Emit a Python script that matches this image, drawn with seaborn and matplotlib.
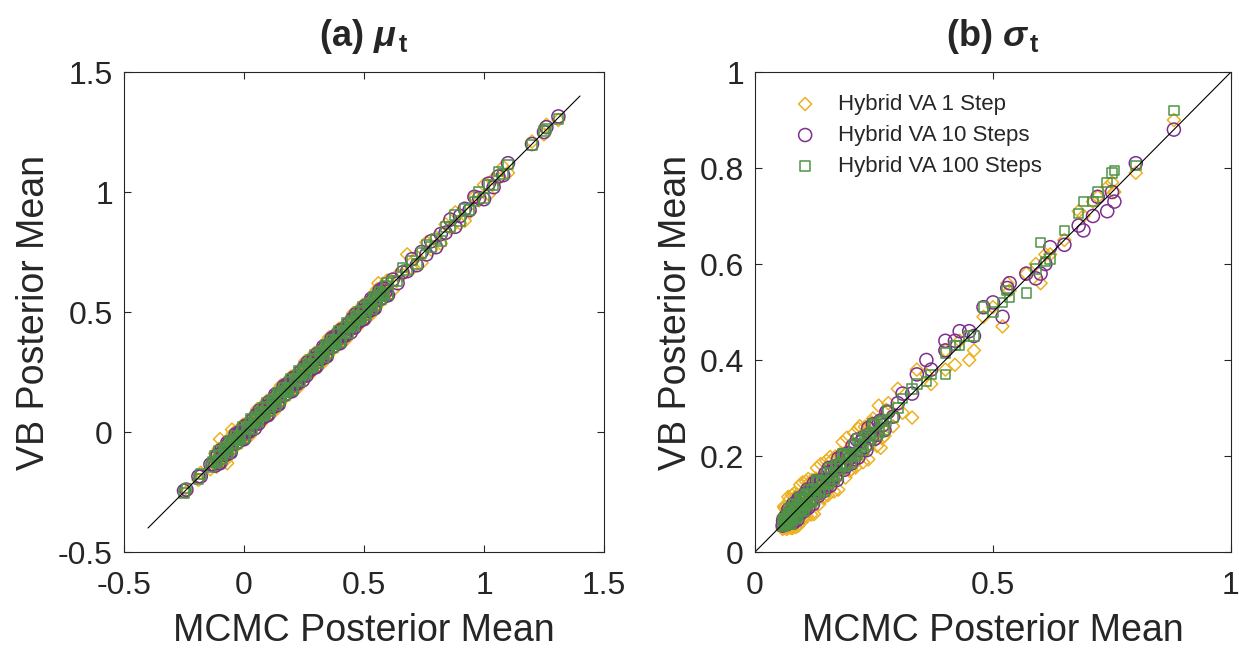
import matplotlib
matplotlib.use("Agg")
import matplotlib.pyplot as plt
import seaborn as sns

# ---- data ----
# panel (a): mu_t, MCMC posterior mean vs VB posterior mean (one value per parameter)
mcmc_mu = [-0.25, -0.24, -0.19, -0.18, -0.14, -0.13,
           -0.12, -0.11, -0.10, -0.09, -0.08, -0.07, -0.06, -0.05, -0.04, -0.03, -0.02, -0.01,
           0.00, 0.01, 0.02, 0.03, 0.04, 0.05, 0.06, 0.07, 0.08, 0.09,
           0.10, 0.11, 0.12, 0.13, 0.14, 0.15, 0.16, 0.17, 0.18, 0.19,
           0.20, 0.21, 0.22, 0.23, 0.24, 0.25, 0.26, 0.27, 0.28, 0.29,
           0.30, 0.31, 0.32, 0.33, 0.34, 0.35, 0.36, 0.37, 0.38, 0.39,
           0.40, 0.41, 0.42, 0.43, 0.44, 0.45, 0.46, 0.47, 0.48, 0.49,
           0.50, 0.51, 0.52, 0.53, 0.54, 0.55, 0.56, 0.57, 0.58, 0.59,
           0.60, 0.62, 0.64, 0.66, 0.68, 0.70, 0.72, 0.74, 0.76, 0.78,
           0.80, 0.82, 0.84, 0.86, 0.88, 0.90, 0.92, 0.94, 0.96, 0.98,
           1.00, 1.02, 1.04, 1.06, 1.08, 1.10,
           1.20, 1.25, 1.26, 1.31,
           -0.115, -0.105, -0.095, -0.085, -0.075, -0.065, -0.055, -0.045, -0.035, -0.025,
           -0.015, -0.005, 0.005, 0.015, 0.025, 0.035, 0.045, 0.055, 0.065, 0.075,
           0.085, 0.095, 0.105, 0.115, 0.125, 0.135, 0.145, 0.155, 0.165, 0.175,
           0.185, 0.195, 0.205, 0.215, 0.225, 0.235, 0.245, 0.255, 0.265, 0.275,
           0.285, 0.295, 0.305, 0.315, 0.325, 0.335, 0.345, 0.355, 0.365, 0.375,
           0.385, 0.395, 0.405, 0.415, 0.425, 0.435, 0.445, 0.455, 0.465, 0.475,
           0.485, 0.495, 0.505, 0.515, 0.525, 0.535, 0.545, 0.555, 0.565, 0.575,
           0.585, 0.595]
vb_mu_1 = [-0.24, -0.25, -0.20, -0.17, -0.155, -0.12,
           -0.09, -0.13, -0.03, -0.125, -0.055, -0.13, -0.025, 0.01, -0.035, -0.055, 0.00, -0.025,
           0.03, -0.02, 0.035, 0.025, 0.065, 0.03, 0.07, 0.035, 0.11, 0.07,
           0.11, 0.075, 0.145, 0.12, 0.175, 0.12, 0.165, 0.145, 0.20, 0.175,
           0.23, 0.18, 0.235, 0.225, 0.265, 0.23, 0.27, 0.235, 0.31, 0.27,
           0.31, 0.275, 0.345, 0.32, 0.375, 0.32, 0.365, 0.345, 0.40, 0.375,
           0.43, 0.38, 0.435, 0.425, 0.465, 0.43, 0.47, 0.435, 0.51, 0.47,
           0.51, 0.475, 0.545, 0.52, 0.575, 0.52, 0.62, 0.545, 0.60, 0.575,
           0.63, 0.59, 0.655, 0.655, 0.74, 0.68, 0.73, 0.705, 0.79, 0.76,
           0.81, 0.785, 0.865, 0.85, 0.915, 0.87, 0.88, 0.915, 0.98, 0.965,
           1.03, 0.99, 1.055, 1.055, 1.105, 1.08,
           1.21, 1.24, 1.28, 1.30,
           -0.145, -0.07, -0.115, -0.06, -0.115, -0.05, -0.065, -0.005, -0.06, 0.005,
           -0.045, 0.03, -0.015, 0.04, -0.015, 0.05, 0.035, 0.095, 0.04, 0.105,
           0.055, 0.13, 0.085, 0.14, 0.085, 0.15, 0.135, 0.195, 0.14, 0.205,
           0.155, 0.23, 0.185, 0.24, 0.185, 0.25, 0.235, 0.295, 0.24, 0.305,
           0.255, 0.33, 0.285, 0.34, 0.285, 0.35, 0.335, 0.395, 0.34, 0.405,
           0.355, 0.43, 0.385, 0.44, 0.385, 0.45, 0.435, 0.495, 0.44, 0.505,
           0.455, 0.53, 0.485, 0.54, 0.485, 0.55, 0.535, 0.595, 0.54, 0.605,
           0.555, 0.63]
vb_mu_10 = [-0.245, -0.24, -0.185, -0.185, -0.135, -0.135,
            -0.14, -0.095, -0.13, -0.085, -0.09, -0.045, -0.085, -0.05, -0.03, -0.045, 0.00, -0.015,
            -0.03, 0.025, 0.00, 0.035, 0.03, 0.07, 0.035, 0.08, 0.06, 0.105,
            0.07, 0.115, 0.11, 0.155, 0.115, 0.15, 0.17, 0.155, 0.20, 0.185,
            0.17, 0.225, 0.20, 0.235, 0.23, 0.27, 0.235, 0.28, 0.26, 0.305,
            0.27, 0.315, 0.31, 0.355, 0.315, 0.35, 0.37, 0.355, 0.40, 0.385,
            0.37, 0.425, 0.40, 0.435, 0.43, 0.47, 0.435, 0.48, 0.46, 0.505,
            0.47, 0.515, 0.51, 0.555, 0.515, 0.55, 0.57, 0.555, 0.60, 0.585,
            0.57, 0.635, 0.62, 0.665, 0.67, 0.72, 0.695, 0.75, 0.74, 0.795,
            0.77, 0.825, 0.83, 0.885, 0.855, 0.90, 0.93, 0.925, 0.98, 0.975,
            0.97, 1.035, 1.02, 1.065, 1.07, 1.12,
            1.20, 1.25, 1.27, 1.315,
            -0.105, -0.13, -0.075, -0.095, -0.095, -0.05, -0.085, -0.04, -0.01, -0.04,
            -0.005, -0.03, 0.025, 0.005, 0.005, 0.05, 0.015, 0.06, 0.09, 0.06,
            0.095, 0.07, 0.125, 0.105, 0.105, 0.15, 0.115, 0.16, 0.19, 0.16,
            0.195, 0.17, 0.225, 0.205, 0.205, 0.25, 0.215, 0.26, 0.29, 0.26,
            0.295, 0.27, 0.325, 0.305, 0.305, 0.35, 0.315, 0.36, 0.39, 0.36,
            0.395, 0.37, 0.425, 0.405, 0.405, 0.45, 0.415, 0.46, 0.49, 0.46,
            0.495, 0.47, 0.525, 0.505, 0.505, 0.55, 0.515, 0.56, 0.59, 0.56,
            0.595, 0.57]
vb_mu_100 = [-0.255, -0.235, -0.195, -0.175, -0.145, -0.125,
             -0.10, -0.12, -0.095, -0.115, -0.065, -0.075, -0.035, -0.07, -0.03, -0.045, -0.02, 0.01,
             -0.025, 0.02, 0.01, 0.055, 0.035, 0.065, 0.04, 0.075, 0.10, 0.08,
             0.105, 0.085, 0.135, 0.125, 0.165, 0.13, 0.17, 0.155, 0.18, 0.21,
             0.175, 0.22, 0.21, 0.255, 0.235, 0.265, 0.24, 0.275, 0.30, 0.28,
             0.305, 0.285, 0.335, 0.325, 0.365, 0.33, 0.37, 0.355, 0.38, 0.41,
             0.375, 0.42, 0.41, 0.455, 0.435, 0.465, 0.44, 0.475, 0.50, 0.48,
             0.505, 0.485, 0.535, 0.525, 0.565, 0.53, 0.57, 0.555, 0.58, 0.61,
             0.575, 0.63, 0.63, 0.685, 0.675, 0.715, 0.70, 0.745, 0.78, 0.77,
             0.805, 0.795, 0.855, 0.855, 0.905, 0.88, 0.93, 0.925, 0.96, 1.00,
             0.975, 1.03, 1.03, 1.085, 1.075, 1.115,
             1.195, 1.255, 1.265, 1.305,
             -0.13, -0.08, -0.115, -0.08, -0.06, -0.09, -0.045, -0.05, -0.015, -0.035,
             -0.03, 0.02, -0.015, 0.02, 0.04, 0.01, 0.055, 0.05, 0.085, 0.065,
             0.07, 0.12, 0.085, 0.12, 0.14, 0.11, 0.155, 0.15, 0.185, 0.165,
             0.17, 0.22, 0.185, 0.22, 0.24, 0.21, 0.255, 0.25, 0.285, 0.265,
             0.27, 0.32, 0.285, 0.32, 0.34, 0.31, 0.355, 0.35, 0.385, 0.365,
             0.37, 0.42, 0.385, 0.42, 0.44, 0.41, 0.455, 0.45, 0.485, 0.465,
             0.47, 0.52, 0.485, 0.52, 0.54, 0.51, 0.555, 0.55, 0.585, 0.565,
             0.57, 0.62]

# panel (b): sigma_t
mcmc_sigma = [0.058, 0.060, 0.062, 0.064, 0.066, 0.068, 0.070, 0.072, 0.074, 0.076,
              0.078, 0.080, 0.083, 0.086, 0.089, 0.092, 0.095, 0.098, 0.101, 0.104,
              0.107, 0.110, 0.114, 0.118, 0.122, 0.126, 0.130, 0.135, 0.140, 0.145,
              0.150, 0.155, 0.160, 0.166, 0.172, 0.178, 0.184, 0.190, 0.196, 0.202,
              0.208, 0.214, 0.220, 0.227, 0.234, 0.241, 0.248, 0.256, 0.264, 0.272,
              0.280, 0.290,
              0.30, 0.31, 0.33, 0.34, 0.36, 0.37, 0.40, 0.40, 0.42, 0.43,
              0.45, 0.46, 0.48, 0.50, 0.52, 0.53, 0.535, 0.57, 0.59, 0.60,
              0.61, 0.62, 0.65, 0.68, 0.69, 0.71, 0.72, 0.74, 0.75, 0.755,
              0.80, 0.88,
              0.059, 0.061, 0.063, 0.065, 0.067, 0.069, 0.071, 0.073, 0.075, 0.077,
              0.079, 0.082, 0.085, 0.088, 0.091, 0.094, 0.097, 0.100, 0.103, 0.106,
              0.109, 0.112, 0.116, 0.120, 0.124, 0.128, 0.133, 0.138, 0.143, 0.148,
              0.153, 0.158, 0.163, 0.169, 0.175, 0.181, 0.187, 0.193, 0.199, 0.205,
              0.211, 0.217, 0.224, 0.231, 0.238, 0.245, 0.252, 0.260, 0.268, 0.276]
vb_sigma_1 = [0.048, 0.075, 0.092, 0.050, 0.086, 0.053, 0.115, 0.052, 0.084, 0.050,
              0.118, 0.055, 0.113, 0.052, 0.109, 0.077, 0.140, 0.063, 0.111, 0.074,
              0.147, 0.085, 0.144, 0.078, 0.142, 0.111, 0.175, 0.100, 0.150, 0.115,
              0.190, 0.130, 0.190, 0.126, 0.192, 0.163, 0.229, 0.155, 0.206, 0.172,
              0.248, 0.189, 0.262, 0.187, 0.254, 0.226, 0.278, 0.221, 0.217, 0.242,
              0.310, 0.262,
              0.34, 0.29, 0.28, 0.38, 0.37, 0.35, 0.42, 0.38, 0.39, 0.44,
              0.40, 0.42, 0.49, 0.51, 0.47, 0.56, 0.545, 0.58, 0.60, 0.56,
              0.62, 0.62, 0.65, 0.71, 0.70, 0.73, 0.74, 0.76, 0.77, 0.75,
              0.79, 0.90,
              0.050, 0.095, 0.052, 0.090, 0.048, 0.092, 0.062, 0.110, 0.055, 0.100,
              0.050, 0.122, 0.065, 0.118, 0.055, 0.119, 0.087, 0.145, 0.073, 0.126,
              0.074, 0.152, 0.096, 0.150, 0.079, 0.153, 0.123, 0.183, 0.113, 0.168,
              0.118, 0.198, 0.143, 0.199, 0.130, 0.206, 0.177, 0.238, 0.169, 0.225,
              0.176, 0.257, 0.204, 0.261, 0.193, 0.270, 0.242, 0.305, 0.238, 0.296]
vb_sigma_10 = [0.055, 0.068, 0.057, 0.074, 0.058, 0.073, 0.088, 0.060, 0.084, 0.062,
               0.063, 0.100, 0.075, 0.098, 0.067, 0.097, 0.113, 0.086, 0.111, 0.086,
               0.092, 0.130, 0.106, 0.130, 0.100, 0.131, 0.148, 0.123, 0.150, 0.127,
               0.135, 0.175, 0.152, 0.178, 0.150, 0.183, 0.202, 0.178, 0.206, 0.184,
               0.193, 0.234, 0.212, 0.239, 0.212, 0.246, 0.266, 0.244, 0.274, 0.254,
               0.292, 0.282,
               0.31, 0.33, 0.33, 0.37, 0.40, 0.38, 0.42, 0.44, 0.44, 0.46,
               0.46, 0.45, 0.51, 0.52, 0.49, 0.55, 0.56, 0.58, 0.57, 0.58,
               0.60, 0.635, 0.64, 0.68, 0.67, 0.70, 0.74, 0.71, 0.75, 0.73,
               0.81, 0.88,
               0.065, 0.057, 0.066, 0.059, 0.077, 0.066, 0.063, 0.078, 0.073, 0.085,
               0.091, 0.062, 0.091, 0.076, 0.111, 0.088, 0.081, 0.110, 0.099, 0.122,
               0.121, 0.092, 0.122, 0.108, 0.144, 0.122, 0.117, 0.148, 0.139, 0.164,
               0.165, 0.138, 0.169, 0.157, 0.195, 0.175, 0.171, 0.203, 0.195, 0.221,
               0.223, 0.197, 0.230, 0.219, 0.258, 0.239, 0.236, 0.270, 0.264, 0.292]
vb_sigma_100 = [0.063, 0.056, 0.070, 0.058, 0.076, 0.063, 0.090, 0.060, 0.082, 0.058,
                0.093, 0.070, 0.088, 0.071, 0.099, 0.087, 0.115, 0.086, 0.109, 0.086,
                0.122, 0.100, 0.119, 0.103, 0.132, 0.121, 0.150, 0.123, 0.148, 0.127,
                0.165, 0.145, 0.165, 0.151, 0.182, 0.173, 0.204, 0.178, 0.204, 0.184,
                0.223, 0.204, 0.225, 0.212, 0.244, 0.236, 0.268, 0.244, 0.272, 0.254,
                0.295, 0.280,
                0.30, 0.32, 0.34, 0.35, 0.355, 0.37, 0.37, 0.415, 0.43, 0.43,
                0.45, 0.45, 0.51, 0.50, 0.52, 0.545, 0.53, 0.54, 0.59, 0.645,
                0.605, 0.61, 0.67, 0.705, 0.73, 0.73, 0.75, 0.77, 0.79, 0.795,
                0.805, 0.92,
                0.053, 0.070, 0.060, 0.070, 0.059, 0.071, 0.078, 0.068, 0.078, 0.075,
                0.067, 0.100, 0.079, 0.098, 0.075, 0.098, 0.111, 0.090, 0.109, 0.102,
                0.097, 0.130, 0.110, 0.130, 0.108, 0.132, 0.147, 0.128, 0.149, 0.144,
                0.141, 0.176, 0.157, 0.179, 0.159, 0.185, 0.201, 0.183, 0.205, 0.201,
                0.199, 0.235, 0.218, 0.241, 0.222, 0.249, 0.266, 0.250, 0.274, 0.272]

series_names = ["Hybrid VA 1 Step", "Hybrid VA 10 Steps", "Hybrid VA 100 Steps"]
series_colors = ["#EDB120", "#7E2F8E", "#4E9445"]
series_markers = ["D", "o", "s"]
series_sizes = [44, 88, 48]

mu_ticks = [-0.5, 0, 0.5, 1, 1.5]
mu_ticklabels = ["-0.5", "0", "0.5", "1", "1.5"]
sigma_xticks = [0, 0.5, 1]
sigma_xticklabels = ["0", "0.5", "1"]
sigma_yticks = [0, 0.2, 0.4, 0.6, 0.8, 1]
sigma_yticklabels = ["0", "0.2", "0.4", "0.6", "0.8", "1"]

# ---- style ----
sns.set_style("ticks")
plt.rcParams["font.family"] = ["Liberation Sans", "DejaVu Sans"]
plt.rcParams["mathtext.fontset"] = "custom"
plt.rcParams["mathtext.rm"] = "Liberation Sans"
plt.rcParams["mathtext.it"] = "Liberation Sans:italic:bold"
plt.rcParams["mathtext.bf"] = "Liberation Sans:bold"
plt.rcParams["axes.unicode_minus"] = False

fig = plt.figure(figsize=(12.39, 6.49), dpi=100)
ax1 = fig.add_axes([124 / 1239, 97 / 649, 480 / 1239, 480 / 649])
ax2 = fig.add_axes([755 / 1239, 97 / 649, 476 / 1239, 480 / 649])

panels = [
    (ax1, mcmc_mu, [vb_mu_1, vb_mu_10, vb_mu_100], r"(a) $\mu_{\,\mathbf{t}}$",
     (-0.5, 1.5), (-0.5, 1.5), (-0.4, 1.4)),
    (ax2, mcmc_sigma, [vb_sigma_1, vb_sigma_10, vb_sigma_100], r"(b) $\sigma_{\,\mathbf{t}}$",
     (0, 1), (0, 1), (0, 1)),
]

for ax, xs, ys_list, title, xlim, ylim, diag in panels:
    for ys, name, col, mk, sz in zip(ys_list, series_names, series_colors,
                                      series_markers, series_sizes):
        sns.scatterplot(x=xs, y=ys, ax=ax, marker=mk, s=sz, facecolors="none",
                        edgecolor=col, linewidth=1.1, label=name, legend=False)
    ax.plot(diag, diag, color="black", linewidth=0.8)
    ax.set_xlim(xlim)
    ax.set_ylim(ylim)
    ax.set_title(title, fontsize=26, fontweight="bold", pad=19)
    ax.set_xlabel("MCMC Posterior Mean", fontsize=27, color="#262626", labelpad=8)
    ax.set_ylabel("VB Posterior Mean", fontsize=27, color="#262626")
    ax.tick_params(direction="in", top=True, right=True, length=5, width=0.8,
                   labelsize=23, colors="#262626")
    ax.tick_params(axis="x", pad=14)
    ax.tick_params(axis="y", pad=8)
    for sp in ax.spines.values():
        sp.set_visible(True)
        sp.set_linewidth(0.8)
        sp.set_color("#262626")

ax1.set_xticks(mu_ticks, mu_ticklabels)
ax1.set_yticks(mu_ticks, mu_ticklabels)
ax2.set_xticks(sigma_xticks, sigma_xticklabels)
ax2.set_yticks(sigma_yticks, sigma_yticklabels)

handles, labels = ax2.get_legend_handles_labels()
ax2.legend(handles[:3], labels[:3], loc="upper left", bbox_to_anchor=(0.04, 0.973),
           borderaxespad=0, frameon=False, fontsize=16,
           handletextpad=0.5, labelspacing=0.45)

fig.savefig("out.png", dpi=100)
